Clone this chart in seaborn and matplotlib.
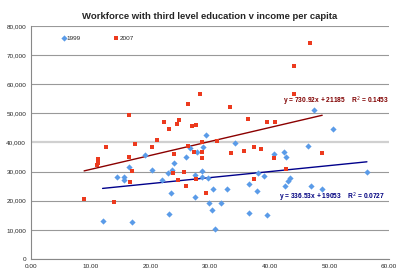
import numpy as np
import pandas as pd
import matplotlib
matplotlib.use("Agg")
import matplotlib.pyplot as plt
import seaborn as sns
from matplotlib.ticker import FuncFormatter

# ---- data ----
x1999 = [12.0, 17.0, 14.4, 15.6, 15.6, 16.5, 19.1, 20.3, 21.9, 23.0,
         23.6, 23.9, 23.4, 23.2, 26.0, 26.6, 27.5, 27.5, 27.8, 29.4,
         28.8, 28.6, 28.7, 29.6, 30.5, 29.9, 30.4, 30.8, 31.9, 32.8,
         34.2, 36.6, 37.9, 36.6, 39.1, 39.6, 38.1, 40.8, 42.4, 42.8,
         46.5, 47.5, 50.6, 56.3, 43.4, 43.1, 42.6, 47.0, 48.7]
y1999 = [13200, 12700, 28000, 28300, 27100, 31600, 35600, 30500, 27200, 29400,
         30500, 33000, 22600, 15600, 35100, 38200, 28900, 21200, 36600, 42600,
         38600, 30300, 28300, 27900, 24000, 19100, 16900, 10200, 19300, 24000,
         39800, 25800, 23500, 15900, 28600, 15200, 29400, 36100, 36700, 35000,
         38900, 51200, 44500, 29800, 27900, 26900, 25000, 25200, 24100]

x2007 = [8.9, 13.9, 16.4, 11.2, 11.3, 11.1, 12.5, 16.5, 16.9, 16.6,
         17.4, 21.2, 20.3, 22.3, 23.2, 24.8, 24.5, 24.0, 23.8, 24.7,
         25.6, 25.9, 26.3, 26.3, 26.9, 27.6, 27.4, 27.7, 28.4, 28.6,
         28.6, 28.6, 44.1, 33.3, 36.3, 39.5, 40.9, 48.8, 42.7, 31.2,
         33.6, 35.7, 37.4, 38.6, 40.7, 37.4, 29.4, 44.0, 46.7]
y2007 = [20700, 19700, 49400, 34300, 32900, 32200, 38300, 34900, 30200, 26300,
         39600, 41000, 38400, 47000, 44600, 47800, 46200, 36100, 29500, 27000,
         29900, 24900, 53200, 38700, 45700, 46100, 36600, 27500, 56500, 36600,
         34700, 40100, 56500, 52200, 48000, 46900, 47000, 36400, 30800, 40500,
         36300, 37000, 38400, 37600, 34600, 27500, 22800, 66300, 74200]

series_names = ["1999", "2007"]
title = "Workforce with third level education v income per capita"
eq_2007 = "y = 730.92x + 21185    R$^2$ = 0.1453"
eq_1999 = "y = 336.53x + 19053    R$^2$ = 0.0727"
x_ticks = [0, 10, 20, 30, 40, 50, 60]
y_ticks = [0, 10000, 20000, 30000, 40000, 50000, 60000, 70000, 80000]

df = pd.concat([
    pd.DataFrame({"x": x1999, "y": y1999, "year": series_names[0]}),
    pd.DataFrame({"x": x2007, "y": y2007, "year": series_names[1]}),
], ignore_index=True)

sns.set_style("white")
plt.rcParams["font.family"] = ["Liberation Sans", "DejaVu Sans"]

fig = plt.figure(figsize=(4.0, 2.76), dpi=100)
ax = fig.add_axes([0.0775, 0.0616, 0.895, 0.8442])

c_blue = "#5a9be8"
c_red = "#ec3a1e"

d99 = df[df.year == "1999"]
d07 = df[df.year == "2007"]
ax.scatter(d99.x, d99.y, marker="D", s=10, color=c_blue, linewidths=0, label="1999", zorder=3)
ax.scatter(d07.x, d07.y, marker="s", s=9, color=c_red, linewidths=0, label="2007", zorder=3)
sns.regplot(data=d99, x="x", y="y", scatter=False, ci=None, ax=ax,
            line_kws=dict(color="#00008b", lw=1.0))
sns.regplot(data=d07, x="x", y="y", scatter=False, ci=None, ax=ax,
            line_kws=dict(color="#8b0000", lw=1.0))

ax.set_xlim(0, 60)
ax.set_ylim(0, 80000)
ax.set_xticks(x_ticks)
ax.set_yticks(y_ticks)
ax.xaxis.set_major_formatter(FuncFormatter(lambda v, p: f"{v:.2f}"))
ax.yaxis.set_major_formatter(FuncFormatter(lambda v, p: f"{int(v):,}"))
ax.tick_params(axis="both", labelsize=4.6, length=2, width=0.6, color="#888888", pad=1.5, direction="out")
ax.set_xlabel("")
ax.set_ylabel("")

ax.yaxis.grid(True, color="#999999", lw=0.8)
ax.set_axisbelow(True)
for gl, v in zip(ax.get_ygridlines(), y_ticks):
    if v == 40000:
        gl.set_color("#d0d0d0")
        gl.set_linewidth(1.6)

for s in ["top", "right"]:
    ax.spines[s].set_visible(False)
for s in ["left", "bottom"]:
    ax.spines[s].set_color("#888888")
    ax.spines[s].set_linewidth(0.8)

ax.set_title(title, fontsize=6.8, fontweight="bold", pad=5)

ax.text(42.3, 54200, eq_2007, color="#800000", fontsize=4.8, fontweight="bold", va="center")
ax.text(41.6, 21300, eq_1999, color="#000080", fontsize=4.8, fontweight="bold", va="center")

ax.legend(loc="upper left", bbox_to_anchor=(0.07, 0.985), ncol=2, frameon=False,
          fontsize=4.6, handlelength=0.6, handletextpad=0.2, columnspacing=5.2,
          markerscale=1.0)

fig.savefig("out.png", dpi=100)
